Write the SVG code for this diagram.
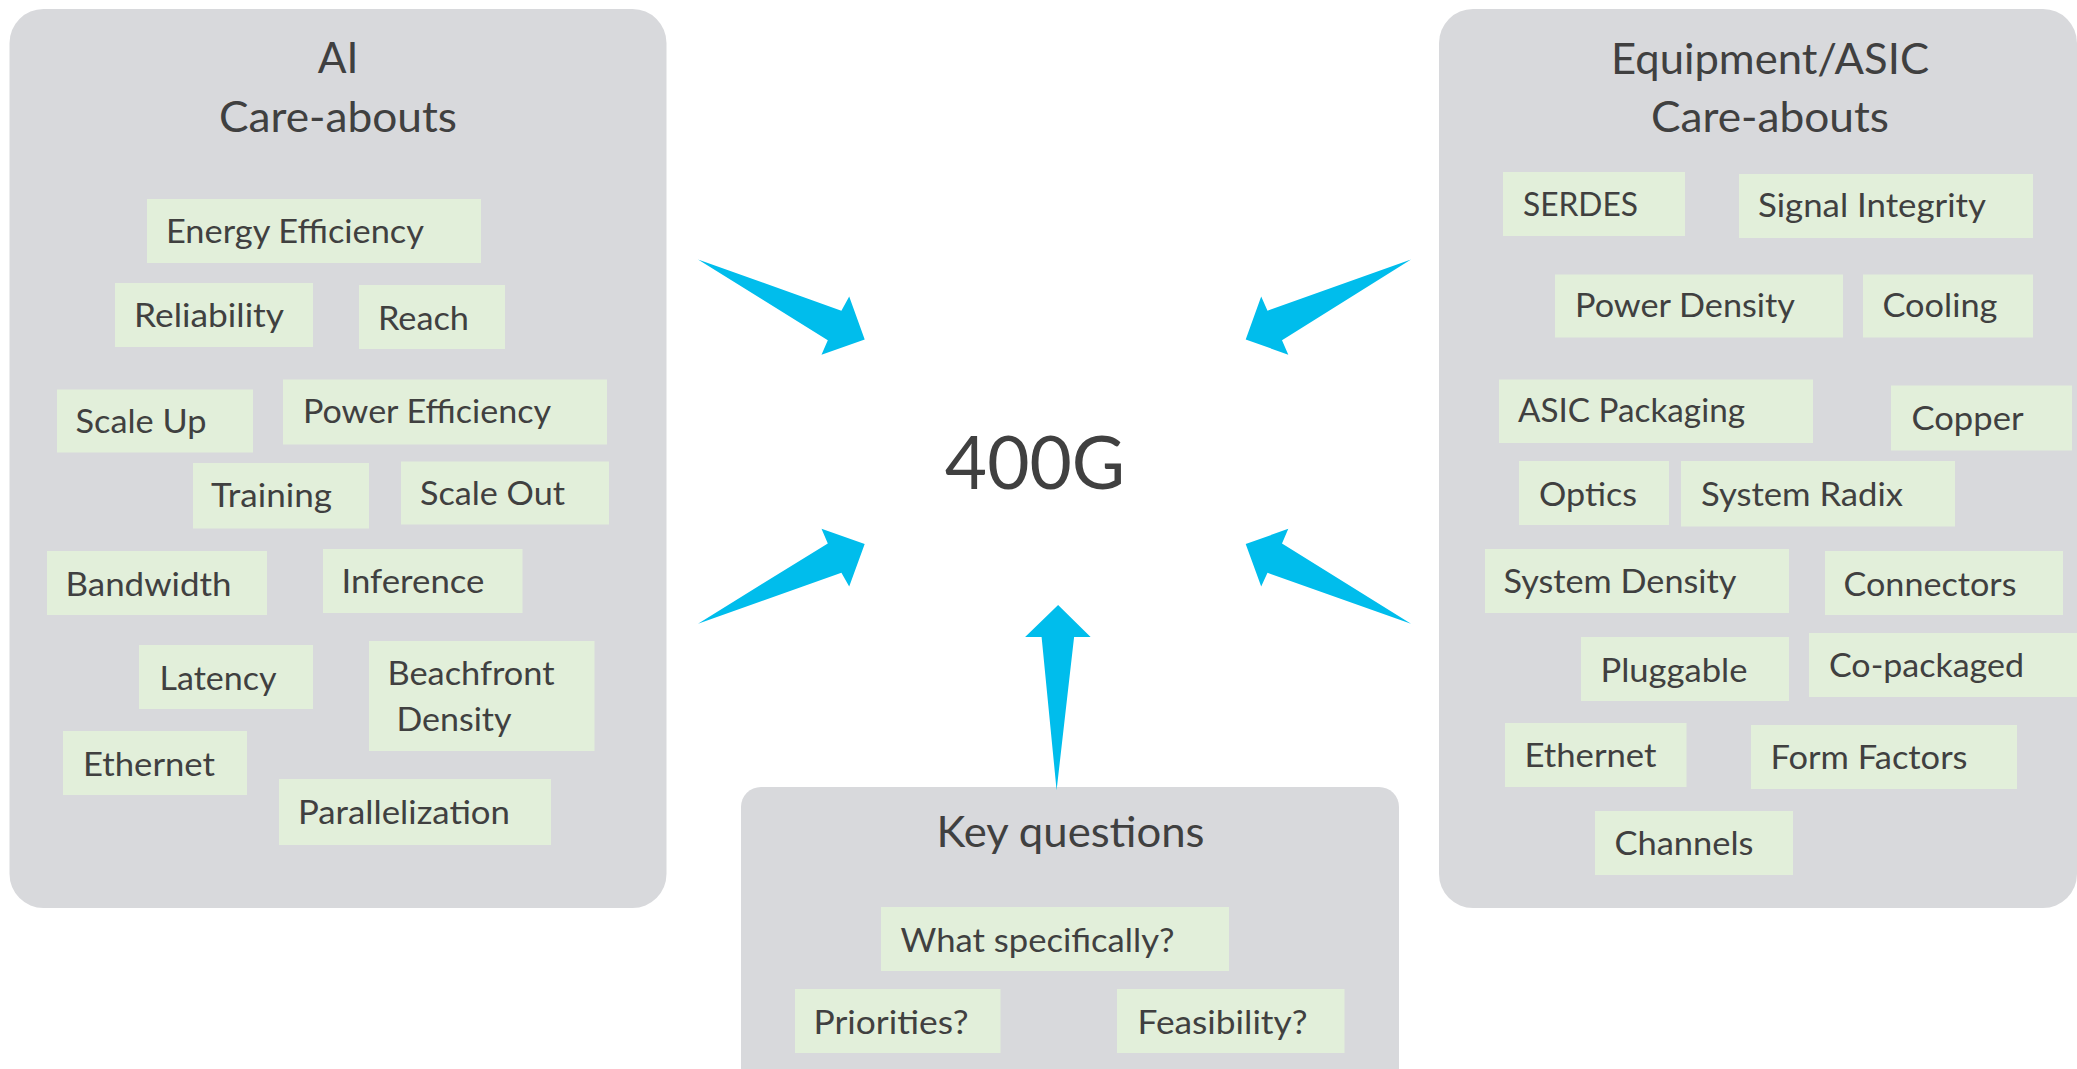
<svg xmlns="http://www.w3.org/2000/svg" width="2077" height="1069" viewBox="0 0 2077 1069">
<style>
.panel{fill:#D8D9DC}
.box{fill:#E2EFDA}
text{font-family:Lato,"Open Sans","Liberation Sans",sans-serif;fill:#404040}
.lbl{font-size:33px}
.title{font-size:42.5px;text-anchor:middle}
.big{font-size:73px;text-anchor:middle}
.arrow{fill:#00BDEC}
</style>
<rect width="2077" height="1069" fill="#FFFFFF"/>

<g id="panel-ai">
<rect class="panel" x="9.5" y="9" width="657" height="899" rx="34"/>
<text class="title" x="338" y="73">AI</text>
<text class="title" x="338" y="132" textLength="238" lengthAdjust="spacingAndGlyphs">Care-abouts</text>
</g>
<g id="ai-energy-efficiency"><rect class="box" x="147" y="199" width="334" height="64"/><text class="lbl" x="166" y="243" textLength="258" lengthAdjust="spacingAndGlyphs">Energy Efficiency</text></g>
<g id="ai-reliability"><rect class="box" x="115" y="283" width="198" height="64"/><text class="lbl" x="134" y="327" textLength="150" lengthAdjust="spacingAndGlyphs">Reliability</text></g>
<g id="ai-reach"><rect class="box" x="359" y="285" width="146" height="64"/><text class="lbl" x="378" y="330" textLength="91" lengthAdjust="spacingAndGlyphs">Reach</text></g>
<g id="ai-scale-up"><rect class="box" x="57" y="389.5" width="196" height="63"/><text class="lbl" x="75.5" y="433" textLength="131" lengthAdjust="spacingAndGlyphs">Scale Up</text></g>
<g id="ai-power-efficiency"><rect class="box" x="283" y="379.5" width="324" height="65"/><text class="lbl" x="303" y="423" textLength="248" lengthAdjust="spacingAndGlyphs">Power Efficiency</text></g>
<g id="ai-training"><rect class="box" x="193" y="463" width="176" height="65.5"/><text class="lbl" x="211" y="507" textLength="121" lengthAdjust="spacingAndGlyphs">Training</text></g>
<g id="ai-scale-out"><rect class="box" x="401" y="461.5" width="208" height="63"/><text class="lbl" x="420" y="505" textLength="145" lengthAdjust="spacingAndGlyphs">Scale Out</text></g>
<g id="ai-bandwidth"><rect class="box" x="47" y="551" width="220" height="64"/><text class="lbl" x="65.5" y="596" textLength="166" lengthAdjust="spacingAndGlyphs">Bandwidth</text></g>
<g id="ai-inference"><rect class="box" x="323" y="549" width="199.5" height="64"/><text class="lbl" x="341.5" y="593" textLength="143" lengthAdjust="spacingAndGlyphs">Inference</text></g>
<g id="ai-latency"><rect class="box" x="139" y="645" width="174" height="64"/><text class="lbl" x="159.5" y="690" textLength="117" lengthAdjust="spacingAndGlyphs">Latency</text></g>
<g id="ai-beachfront-density"><rect class="box" x="369" y="641" width="225.5" height="110"/><text class="lbl" x="387.5" y="685" textLength="167" lengthAdjust="spacingAndGlyphs">Beachfront</text><text class="lbl" x="396.5" y="731" textLength="115" lengthAdjust="spacingAndGlyphs">Density</text></g>
<g id="ai-ethernet"><rect class="box" x="63" y="731" width="184" height="64"/><text class="lbl" x="83" y="776" textLength="132" lengthAdjust="spacingAndGlyphs">Ethernet</text></g>
<g id="ai-parallelization"><rect class="box" x="279" y="779" width="272" height="66"/><text class="lbl" x="298" y="824" textLength="212" lengthAdjust="spacingAndGlyphs">Parallelization</text></g>

<g id="panel-equipment">
<rect class="panel" x="1439" y="9" width="638" height="899" rx="34"/>
<text class="title" x="1770" y="74" textLength="318" lengthAdjust="spacingAndGlyphs">Equipment/ASIC</text>
<text class="title" x="1770" y="132" textLength="238" lengthAdjust="spacingAndGlyphs">Care-abouts</text>
</g>
<g id="eq-serdes"><rect class="box" x="1503" y="172" width="182" height="64"/><text class="lbl" x="1523" y="216" textLength="115" lengthAdjust="spacingAndGlyphs">SERDES</text></g>
<g id="eq-signal-integrity"><rect class="box" x="1739" y="174" width="294" height="64"/><text class="lbl" x="1758" y="217" textLength="228" lengthAdjust="spacingAndGlyphs">Signal Integrity</text></g>
<g id="eq-power-density"><rect class="box" x="1555" y="274.5" width="288" height="63"/><text class="lbl" x="1575" y="317" textLength="220" lengthAdjust="spacingAndGlyphs">Power Density</text></g>
<g id="eq-cooling"><rect class="box" x="1863" y="274.5" width="170" height="63"/><text class="lbl" x="1882.5" y="316.5" textLength="115" lengthAdjust="spacingAndGlyphs">Cooling</text></g>
<g id="eq-asic-packaging"><rect class="box" x="1499" y="379.5" width="314" height="63.5"/><text class="lbl" x="1518" y="421.5" textLength="227" lengthAdjust="spacingAndGlyphs">ASIC Packaging</text></g>
<g id="eq-copper"><rect class="box" x="1891" y="385.5" width="181" height="65"/><text class="lbl" x="1911.5" y="430" textLength="112" lengthAdjust="spacingAndGlyphs">Copper</text></g>
<g id="eq-optics"><rect class="box" x="1519" y="461" width="150" height="64"/><text class="lbl" x="1539" y="505.5" textLength="98" lengthAdjust="spacingAndGlyphs">Optics</text></g>
<g id="eq-system-radix"><rect class="box" x="1681" y="461" width="274" height="65.5"/><text class="lbl" x="1701" y="505.5" textLength="202" lengthAdjust="spacingAndGlyphs">System Radix</text></g>
<g id="eq-system-density"><rect class="box" x="1485" y="549" width="304" height="64"/><text class="lbl" x="1503.5" y="593" textLength="233" lengthAdjust="spacingAndGlyphs">System Density</text></g>
<g id="eq-connectors"><rect class="box" x="1825" y="551" width="238" height="64"/><text class="lbl" x="1843.5" y="596" textLength="173" lengthAdjust="spacingAndGlyphs">Connectors</text></g>
<g id="eq-pluggable"><rect class="box" x="1581" y="637" width="208" height="64"/><text class="lbl" x="1600.5" y="682" textLength="147" lengthAdjust="spacingAndGlyphs">Pluggable</text></g>
<g id="eq-co-packaged"><rect class="box" x="1809" y="633" width="270" height="64"/><text class="lbl" x="1829" y="677" textLength="195" lengthAdjust="spacingAndGlyphs">Co-packaged</text></g>
<g id="eq-ethernet"><rect class="box" x="1505" y="723" width="181.5" height="64"/><text class="lbl" x="1524.5" y="767" textLength="132" lengthAdjust="spacingAndGlyphs">Ethernet</text></g>
<g id="eq-form-factors"><rect class="box" x="1751" y="725" width="266" height="64"/><text class="lbl" x="1770.5" y="768.5" textLength="197" lengthAdjust="spacingAndGlyphs">Form Factors</text></g>
<g id="eq-channels"><rect class="box" x="1595" y="811" width="198" height="64"/><text class="lbl" x="1614.5" y="855" textLength="139" lengthAdjust="spacingAndGlyphs">Channels</text></g>

<g id="panel-key-questions">
<rect class="panel" x="741" y="787" width="658" height="320" rx="20"/>
<text class="title" x="1070.5" y="847" textLength="268" lengthAdjust="spacingAndGlyphs">Key questions</text>
</g>
<g id="kq-what-specifically"><rect class="box" x="881" y="907" width="348" height="64"/><text class="lbl" x="900.5" y="952" textLength="274" lengthAdjust="spacingAndGlyphs">What specifically?</text></g>
<g id="kq-priorities"><rect class="box" x="795" y="989" width="205.5" height="64"/><text class="lbl" x="813.5" y="1033.5" textLength="155" lengthAdjust="spacingAndGlyphs">Priorities?</text></g>
<g id="kq-feasibility"><rect class="box" x="1117" y="989" width="227.5" height="64"/><text class="lbl" x="1137.5" y="1033.5" textLength="170" lengthAdjust="spacingAndGlyphs">Feasibility?</text></g>

<g id="center-400g">
<text class="big" x="1035" y="489">400G</text>
</g>

<g id="connectors">
<polygon class="arrow" points="698,259.4 841.4,310.7 849.2,296.5 864.7,339.4 821.5,354.7 827.8,340.2"/>
<polygon class="arrow" points="1411,259.4 1267.5,310.7 1261.2,296.5 1245.7,339.4 1288.3,354.7 1282,340.2"/>
<polygon class="arrow" points="698,623.7 841.4,572.8 849.2,586.6 864.7,544.1 821.5,528.8 827.8,543.4"/>
<polygon class="arrow" points="1411,623.7 1267.5,572.8 1261.2,586.6 1245.7,544.1 1288.3,528.8 1282,543.4"/>
<polygon class="arrow" points="1058.1,605 1090.6,637.1 1074.1,637.1 1056.6,790.2 1041.6,637.1 1025.1,637.1"/>
</g>
</svg>
